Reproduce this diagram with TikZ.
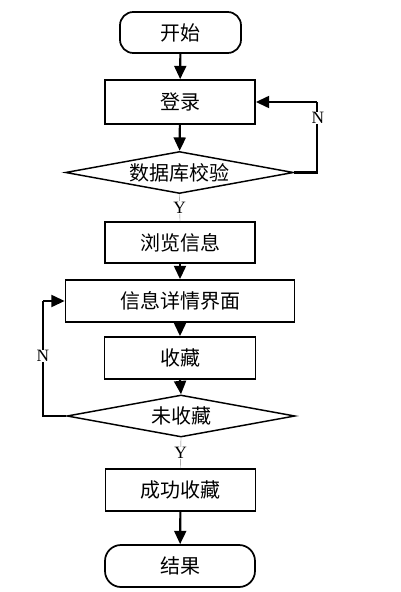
\documentclass[tikz,border=0pt]{standalone}
\usepackage{fontspec}
\setmainfont{Liberation Serif}
\newfontfamily\cjk{Noto Sans CJK SC}[BoldFont={Noto Sans CJK SC}]
\usetikzlibrary{shapes.geometric,arrows.meta}
\begin{document}
\begin{tikzpicture}[x=0.75pt,y=-0.75pt,
  every node/.style={font=\cjk\fontsize{15}{17}\selectfont},
  box/.style={draw,line width=1.3pt,minimum width=150*0.75pt,minimum height=43*0.75pt,inner sep=0pt},
  term/.style={box,rounded corners=10pt},
  dia/.style={draw,line width=1.1pt,diamond,aspect=5.5,inner sep=0pt,minimum width=228*0.75pt,minimum height=42*0.75pt},
  lbl/.style={font=\fontsize{13}{14}\selectfont,fill=white,text=black,inner sep=0.5pt},
  arr/.style={line width=1.6pt,-{Triangle[width=9pt,length=10pt]}},
  ln/.style={line width=1.6pt}]
\useasboundingbox (0,0) rectangle (400,592);
\node[term,minimum width=121*0.75pt,minimum height=41*0.75pt] (start) at (180.5,32.5) {开始};
\node[box,minimum height=44*0.75pt] (login) at (180,102) {登录};
\node[dia] (db) at (179.5,172.5) {数据库校验};
\node[box,minimum height=41*0.75pt] (browse) at (180,242.5) {浏览信息};
\node[box,minimum width=229*0.75pt,minimum height=42*0.75pt] (detail) at (180,301) {信息详情界面};
\node[box,minimum width=151*0.75pt,minimum height=42*0.75pt] (fav) at (180,358) {收藏};
\node[dia] (notfav) at (181,416) {未收藏};
\node[box,minimum height=42*0.75pt] (ok) at (180.5,490) {成功收藏};
\node[term,minimum height=42*0.75pt,rounded corners=12pt] (end) at (180,566) {结果};
\coordinate (r1) at (317,172.5);
\coordinate (r2) at (317,102);
\coordinate (l1) at (43,416);
\coordinate (l2) at (43,301);
\draw[arr] (start) -- (login);
\draw[arr] (login) -- (db);
\draw[line width=0.3pt,gray] (db.south) -- (browse.north) node[lbl,pos=0.5] (y1) {Y};
\draw[ln] (db.east) -- (r1) -- (r2);
\draw[arr] (r2) -- (login.east);
\node[lbl] (n1) at (318,118) {N};
\draw[arr] (browse) -- (detail);
\draw[arr] (detail) -- (fav);
\draw[arr] (fav.south) -- (notfav.north);
\draw[line width=0.3pt,gray] (notfav.south) -- (ok.north) node[lbl,pos=0.5] (y2) {Y};
\draw[ln] (notfav.west) -- (l1) -- (l2);
\draw[arr] (l2) -- (detail.west);
\node[lbl] (n2) at (43,356) {N};
\draw[arr] (ok) -- (end);
\end{tikzpicture}
\end{document}
